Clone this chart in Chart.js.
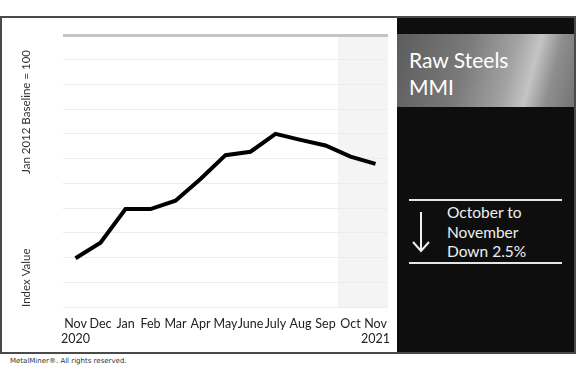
<!DOCTYPE html>
<html>
<head>
<meta charset="utf-8">
<script src="https://cdn.jsdelivr.net/npm/chart.js@4"></script>
<style>
  body { margin: 0; width: 580px; height: 370px; background: #fff; position: relative; overflow: hidden; font-family: Lato, "Open Sans", sans-serif; }
  #frame { position: absolute; left: 0; top: 16px; width: 572px; height: 334px; border: 2px solid #4a4a4a; }
  #chartBox { position: absolute; left: 0; top: 0; width: 395px; height: 334px; }
  #side { position: absolute; left: 395px; top: 0; width: 177px; height: 334px; background: #0e0e0e; }
  #titleBox { position: absolute; left: 0; top: 16px; width: 177px; height: 73px;
    background: linear-gradient(105deg, #5c5c5c 0%, #7a7a7a 38%, #a2a2a2 62%, #c4c4c4 74%, #8e8e8e 85%, #747474 100%); }
  #titleBox div { position: absolute; left: 12px; top: 12px; color: #fff; font-size: 21px; line-height: 27px; }
  .rule { position: absolute; left: 12px; width: 153px; height: 2px; background: #e6e6e6; }
  #change { position: absolute; left: 50px; top: 185px; color: #f0f0f0; font-size: 15.5px; line-height: 19.5px; }
  #arrow { position: absolute; left: 14px; top: 192px; }
  #foot { position: absolute; left: 10px; top: 357px; font-family: "DejaVu Sans", sans-serif; font-size: 7px; color: #333; }
</style>
</head>
<body>
<div id="frame">
  <div id="chartBox"><canvas id="mycanvas"></canvas></div>
  <div id="side">
    <div id="titleBox"><div>Raw Steels<br>MMI</div></div>
    <div class="rule" style="top:181px"></div>
    <svg id="arrow" width="20" height="44"><path d="M10 2 L10 41 M2 32 L10 41 L18 32" stroke="#f0f0f0" stroke-width="2" fill="none"/></svg>
    <div id="change">October to<br>November<br>Down 2.5%</div>
    <div class="rule" style="top:244px"></div>
  </div>
</div>
<div id="foot">MetalMiner®. All rights reserved.</div>
<script>
var months = [["Nov", "2020"], "Dec", "Jan", "Feb", "Mar", "Apr", "May", "June", "July", "Aug", "Sep", "Oct", ["Nov", "2021"]];
var indexValues = [1.97, 2.6, 3.96, 3.96, 4.3, 5.18, 6.14, 6.28, 7.0, 6.76, 6.53, 6.08, 5.79];
var shadedFrom = 11; // Oct onward

var shadePlugin = {
  id: 'shade',
  beforeDraw: function (chart) {
    var ctx = chart.ctx, area = chart.chartArea, x = chart.scales.x;
    var half = (x.getPixelForValue(1) - x.getPixelForValue(0)) / 2;
    var left = x.getPixelForValue(shadedFrom) - half;
    ctx.save();
    ctx.fillStyle = '#f4f4f4';
    ctx.fillRect(left, area.top, area.right - left, area.bottom - area.top);
    ctx.restore();
  },
  afterDraw: function (chart) {
    var ctx = chart.ctx, area = chart.chartArea;
    ctx.save();
    ctx.fillStyle = '#333';
    ctx.font = '11.5px Lato, sans-serif';
    ctx.textBaseline = 'middle';
    ctx.translate(24, area.top + 15);
    ctx.rotate(-Math.PI / 2);
    ctx.textAlign = 'right';
    ctx.fillText('Jan 2012 Baseline = 100', 0, 0);
    ctx.restore();
    ctx.save();
    ctx.fillStyle = '#333';
    ctx.font = '11.5px Lato, sans-serif';
    ctx.textBaseline = 'middle';
    ctx.translate(24, area.bottom);
    ctx.rotate(-Math.PI / 2);
    ctx.textAlign = 'left';
    ctx.fillText('Index Value', 0, 0);
    ctx.restore();
  }
};

var ctx = document.getElementById('mycanvas');
new Chart(ctx, {
  type: 'line',
  data: {
    labels: months,
    datasets: [{
      data: indexValues,
      borderColor: '#000',
      borderWidth: 4,
      pointRadius: 0,
      tension: 0,
      borderJoinStyle: 'miter'
    }]
  },
  options: {
    responsive: true,
    maintainAspectRatio: false,
    animation: false,
    layout: { padding: { left: 61, right: 9, top: 17, bottom: 0 } },
    plugins: { legend: { display: false }, tooltip: { enabled: false } },
    scales: {
      x: {
        offset: true,
        grid: { display: false },
        border: { display: false },
        afterFit: function (scale) { scale.height = 45; },
        ticks: { color: '#222', font: { family: 'Lato', size: 12.5 }, padding: 1, maxRotation: 0, autoSkip: false }
      },
      y: {
        min: 0,
        max: 11,
        ticks: { display: false, stepSize: 1 },
        border: { display: false },
        grid: {
          drawTicks: false,
          color: function (c) { return c.tick.value === 11 ? '#c4c4c4' : '#ececec'; },
          lineWidth: function (c) { return c.tick.value === 11 ? 3 : 1; }
        }
      }
    }
  },
  plugins: [shadePlugin]
});
</script>
</body>
</html>
